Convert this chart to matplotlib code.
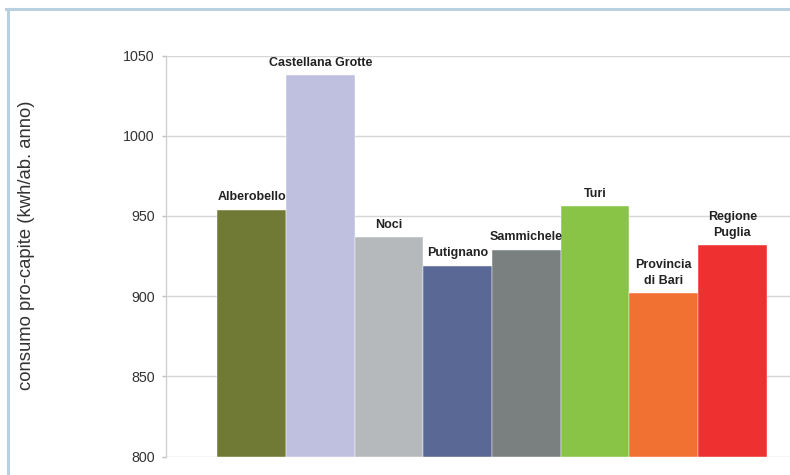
import matplotlib
matplotlib.use("Agg")
import matplotlib.pyplot as plt
from matplotlib.lines import Line2D

plt.rcParams["font.family"] = ["Liberation Sans", "DejaVu Sans"]

# Per-capita electricity consumption by municipality
comuni = ["Alberobello", "Castellana Grotte", "Noci", "Putignano", "Sammichele",
          "Turi", "Provincia\ndi Bari", "Regione\nPuglia"]
consumo = [954, 1038, 937, 919, 929, 956, 902, 932]
colori = ["#717a34", "#bfc0e0", "#b6b9bb", "#5a6895", "#7a8080",
          "#89c447", "#f07132", "#ee3130"]
yticks = [800, 850, 900, 950, 1000, 1050]

fig = plt.figure(figsize=(7.9, 4.75), dpi=100)

# light blue frame (left and top edges)
frame_col = "#b8d0df"
fig.add_artist(Line2D([7.5 / 790, 7.5 / 790], [0, 1 - 8.5 / 475], color=frame_col, lw=2.2,
                      transform=fig.transFigure))
fig.add_artist(Line2D([6.4 / 790, 1], [1 - 8.5 / 475, 1 - 8.5 / 475], color=frame_col, lw=2.2,
                      transform=fig.transFigure))

ax = fig.add_axes([166 / 790, 1 - 456.7 / 475, 1 - 166 / 790, (456.7 - 55.5) / 475])

x = list(range(len(comuni)))
ax.bar(x, [v - 800 for v in consumo], bottom=800, width=1.0, color=colori,
       edgecolor="#ffffff", linewidth=0.3, zorder=2)

for xi, v, nome in zip(x, consumo, comuni):
    ax.annotate(nome, (xi, v), xytext=(0, 4.5), textcoords="offset points",
                ha="center", va="bottom", fontsize=9, fontweight="bold",
                color="#222222", linespacing=1.45, zorder=4)

ax.set_ylim(800, 1050)
ax.set_xlim(-1.25, 7.84)
ax.set_yticks(yticks)
ax.set_xticks([])
ax.yaxis.grid(True, color="#d6d6d6", lw=1.0, zorder=0)
ax.set_axisbelow(True)

for s in ["top", "right", "bottom"]:
    ax.spines[s].set_visible(False)
ax.spines["left"].set_color("#d0d0d0")
ax.spines["left"].set_linewidth(1.0)
ax.tick_params(axis="y", length=3, width=1, color="#bdbdbd", pad=5,
               labelsize=10.3, labelcolor="#333333")

fig.text(27 / 790, 1 - 245 / 475, "consumo pro-capite (kwh/ab. anno)", rotation=90,
         ha="center", va="center", fontsize=13.3, color="#333333")

fig.savefig("out.png", dpi=100)
